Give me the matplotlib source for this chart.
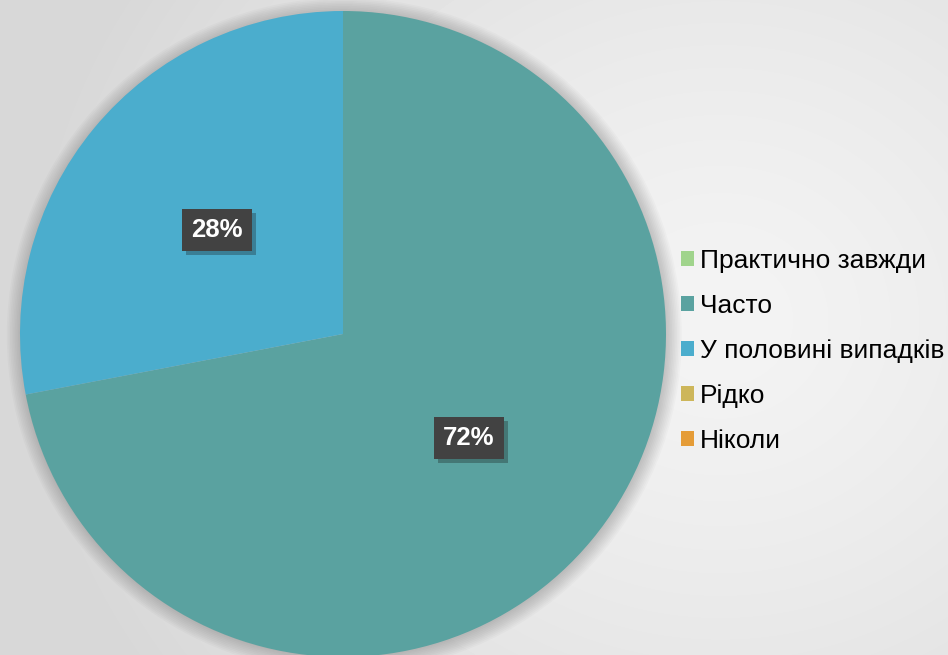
import numpy as np
import matplotlib.pyplot as plt
from matplotlib.patches import Patch, Circle
import matplotlib.patheffects as pe

plt.rcParams['font.family'] = ['Liberation Sans', 'DejaVu Sans']

categories = ["Практично завжди", "Часто", "У половині випадків", "Рідко", "Ніколи"]
values = [0, 72, 28, 0, 0]
colors = ["#a0d48c", "#5aa2a0", "#4badcd", "#cdb65a", "#e59c37"]

W, H = 948, 655
fig = plt.figure(figsize=(W / 100, H / 100), dpi=100)

# фон: мягкий радиальный градиент
bg = fig.add_axes([0, 0, 1, 1])
yy, xx = np.mgrid[0:H, 0:W]
d = np.hypot(xx - 720, (yy - 320) * 1.1) / 700
shade = 0.955 - 0.11 * np.clip(d, 0, 1) ** 1.3
bg.imshow(shade, cmap="gray", vmin=0, vmax=1, extent=[0, W, H, 0], aspect="auto")
bg.set_xlim(0, W)
bg.set_ylim(H, 0)
bg.axis("off")

cx, cy, r = 343, 334, 323
ax = fig.add_axes([(cx - r) / W, (H - cy - r) / H, 2 * r / W, 2 * r / H])

# тень вокруг круга
for k in range(10):
    ax.add_patch(Circle((0.004, -0.004), 1 + 0.005 * k, color="black", alpha=0.02,
                        lw=0, zorder=0, clip_on=False))


def fmt(p):
    return f"{p:.0f}%" if p > 0.5 else ""


wedges, texts, autotexts = ax.pie(
    values, colors=colors, startangle=90, counterclock=False,
    radius=1, autopct=fmt, pctdistance=0.505,
    wedgeprops=dict(linewidth=0, clip_on=False),
    textprops=dict(color="white", fontsize=18.5, fontweight="bold"),
)
for t in autotexts:
    t.set_bbox(dict(boxstyle="square,pad=0.36", facecolor="#424242", edgecolor="none"))
    t.get_bbox_patch().set_path_effects([pe.SimplePatchShadow(offset=(3, -3), alpha=0.3), pe.Normal()])
ax.set_xlim(-1, 1)
ax.set_ylim(-1, 1)
ax.set_aspect("equal")
ax.axis("off")

handles = [Patch(facecolor=c, edgecolor="none") for c in colors]
fig.legend(handles, categories, loc="center left", bbox_to_anchor=(681 / W, 1 - 351 / H),
           frameon=False, fontsize=19, handlelength=0.48, handleheight=0.48,
           handletextpad=0.25, labelspacing=0.8, borderaxespad=0, borderpad=0)

fig.savefig("out.png", dpi=100)
